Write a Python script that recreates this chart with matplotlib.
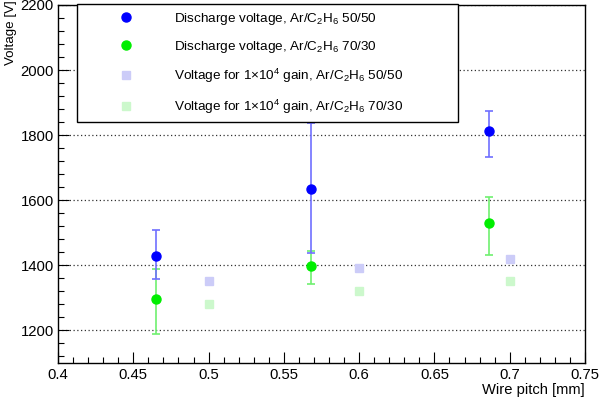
import matplotlib
matplotlib.use("Agg")
import matplotlib.pyplot as plt
from matplotlib.lines import Line2D
from matplotlib.ticker import MultipleLocator, FuncFormatter

plt.rcParams['font.family'] = ['Liberation Sans', 'DejaVu Sans']
plt.rcParams['mathtext.fontset'] = 'custom'
plt.rcParams['mathtext.rm'] = 'Liberation Sans'
plt.rcParams['mathtext.it'] = 'Liberation Sans:italic'

# Discharge voltage data
pitch_dis = [0.465, 0.568, 0.686]
v_dis_5050 = [1429, 1634, 1812]
err_dis_5050_lo = [71, 196, 78]
err_dis_5050_hi = [79, 203, 62]
v_dis_7030 = [1296, 1398, 1530]
err_dis_7030_lo = [106, 54, 98]
err_dis_7030_hi = [94, 46, 81]

# Voltage for 1e4 gain
pitch_gain = [0.5, 0.6, 0.7]
v_gain_5050 = [1351, 1391, 1420]
v_gain_7030 = [1280, 1320, 1351]

labels = [r"Discharge voltage, Ar/C$_2$H$_6$ 50/50",
          r"Discharge voltage, Ar/C$_2$H$_6$ 70/30",
          r"Voltage for 1$\times$10$^4$ gain, Ar/C$_2$H$_6$ 50/50",
          r"Voltage for 1$\times$10$^4$ gain, Ar/C$_2$H$_6$ 70/30"]

fig = plt.figure(figsize=(5.99, 3.99), dpi=100)
ax = fig.add_axes([58/599, 1 - 363/399, 527/599, 358/399])

blue = '#0000ff'
green = '#00ee00'
blue_err = '#7070ff'
green_err = '#70f070'
blue_sq = '#ccccf8'
green_sq = '#ccf8cc'

ax.errorbar(pitch_dis, v_dis_5050, yerr=[err_dis_5050_lo, err_dis_5050_hi],
            fmt='o', color=blue, ecolor=blue_err, elinewidth=1.2, capsize=3,
            capthick=1.2, markersize=6.5, zorder=4)
ax.errorbar(pitch_dis, v_dis_7030, yerr=[err_dis_7030_lo, err_dis_7030_hi],
            fmt='o', color=green, ecolor=green_err, elinewidth=1.2, capsize=3,
            capthick=1.2, markersize=6.5, zorder=3)
ax.plot(pitch_gain, v_gain_5050, 's', color=blue_sq, markersize=6, zorder=3)
ax.plot(pitch_gain, v_gain_7030, 's', color=green_sq, markersize=6, zorder=3)

ax.set_xlim(0.4, 0.75)
ax.set_ylim(1100, 2200)
ax.xaxis.set_major_locator(MultipleLocator(0.05))
ax.xaxis.set_minor_locator(MultipleLocator(0.01))
ax.yaxis.set_major_locator(MultipleLocator(200))
ax.yaxis.set_minor_locator(MultipleLocator(40))
ax.xaxis.set_major_formatter(FuncFormatter(lambda v, p: ('%g' % round(v, 3))))
ax.tick_params(which='both', direction='in', top=False, right=False, labelsize=10.7)
ax.tick_params(axis='x', pad=3.5)
ax.tick_params(axis='y', pad=3)
ax.tick_params(which='major', length=8, width=0.8)
ax.tick_params(which='minor', length=4.5, width=0.8)
for s in ax.spines.values():
    s.set_linewidth(1.0)
ax.grid(axis='y', which='major', linestyle=(0, (1, 2)), color='#333333', linewidth=0.9)
ax.set_axisbelow(True)

fig.text(11/599, 1 - 0/399, "Voltage [V]", rotation=90, ha='center', va='top', fontsize=9.6)
fig.text(585/599, 1 - 383/399, "Wire pitch [mm]", ha='right', va='top', fontsize=10.6)

handles = [Line2D([], [], marker='o', color=blue, linestyle='none', markersize=6.5),
           Line2D([], [], marker='o', color=green, linestyle='none', markersize=6.5),
           Line2D([], [], marker='s', color=blue_sq, linestyle='none', markersize=6),
           Line2D([], [], marker='s', color=green_sq, linestyle='none', markersize=6)]
leg = ax.legend(handles, labels, loc='upper left',
                bbox_to_anchor=(19/527, (363 - 118)/358, 381/527, 114/358), mode='expand',
                fancybox=False, edgecolor='black', framealpha=1, fontsize=9.7,
                borderaxespad=0, handlelength=6.2, handletextpad=0.5, borderpad=0.5,
                labelspacing=0.9)
leg.get_frame().set_linewidth(1.0)
leg.set_zorder(10)

fig.savefig("out.png", dpi=100)
